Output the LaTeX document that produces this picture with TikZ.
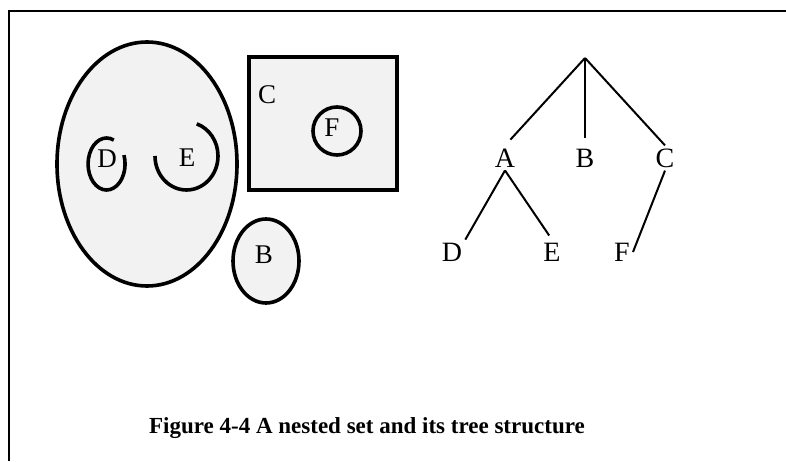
\documentclass[tikz,border=0pt]{standalone}
\usepackage{fontspec}
\setmainfont{Liberation Serif}
\usetikzlibrary{shapes.geometric}
\begin{document}
\begin{tikzpicture}[x=1pt,y=1pt,
  setline/.style={line width=3.6pt,draw=black},
  setfill/.style={fill=black!5},
  setlabel/.style={inner sep=0pt,font=\fontsize{27}{32}\selectfont},
  treelabel/.style={inner sep=3pt,font=\fontsize{28}{32}\selectfont},
  treeline/.style={line width=2pt,draw=black},
  frameline/.style={line width=2.5pt,draw=black},
  captionstyle/.style={inner sep=0pt,anchor=base,font=\fontsize{23}{27}\selectfont\bfseries}]
\useasboundingbox (0,0) rectangle (786,461);
% frame
\coordinate (ftl) at (9,450);
\coordinate (ftr) at (786,450);
\coordinate (fbl) at (9,0);
\draw[frameline] (ftr) -- (ftl) -- (fbl);
% nested sets
\node[setline,setfill,ellipse,minimum width=180pt,minimum height=244pt,inner sep=0pt] (setA) at (147,297) {};
\draw[setline] (113.8,320.93) arc[start angle=67,end angle=380,x radius=18.5,y radius=26];
\draw[setline] (155,305) arc[start angle=180,end angle=431,x radius=31.5,y radius=34];
\node[setlabel] (sD) at (107,302) {D};
\node[setlabel] (sE) at (187,303) {E};
\node[setline,setfill,rectangle,minimum width=148pt,minimum height=133pt,inner sep=0pt] (setC) at (323,337.5) {};
\node[setlabel] (sC) at (267,366) {C};
\node[setline,setfill,circle,minimum size=48pt,inner sep=0pt] (setF) at (337,330) {};
\node[setlabel] (sF) at (332,333) {F};
\node[setline,setfill,ellipse,minimum width=66pt,minimum height=84pt,inner sep=0pt] (setB) at (266,200) {};
\node[setlabel] (sB) at (264,206) {B};
% tree
\coordinate (root) at (585,403);
\node[treelabel] (tA) at (505,303) {A};
\node[treelabel] (tB) at (585,303) {B};
\node[treelabel] (tC) at (665,303) {C};
\node[treelabel] (tD) at (452,209) {D};
\node[treelabel] (tE) at (552,209) {E};
\node[treelabel] (tF) at (622,209) {F};
\draw[treeline,shorten >=8pt] (root) -- (tA.north);
\draw[treeline,shorten >=8pt] (root) -- (tB.north);
\draw[treeline] (root) -- (tC.north);
\draw[treeline] (tA.south) -- (tD.north east);
\draw[treeline,shorten >=5pt] (tA.south) -- (tE.north);
\draw[treeline] (tC.south) -- (tF.east);
% caption
\node[captionstyle] (cap) at (367,28) {Figure 4-4 A nested set and its tree structure};
\end{tikzpicture}
\end{document}
